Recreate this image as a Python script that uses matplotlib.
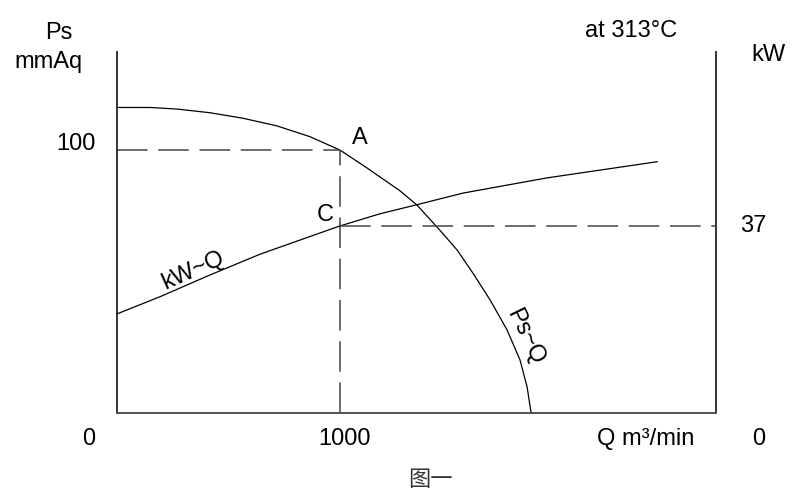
import matplotlib
matplotlib.use('Agg')
import matplotlib.pyplot as plt

# Fan curves (Q in m3/min)
ps_q = [0, 148, 269, 417, 565, 717, 865, 1000, 1121, 1269, 1345, 1448, 1525,
        1596, 1673, 1749, 1807, 1839, 1857]
ps_val = [116.2, 116.2, 115.6, 114.2, 112.1, 109.2, 105.1, 100, 93.2, 84.5, 79.1,
          69.5, 62.0, 53.2, 43.0, 31.6, 20.2, 9.9, 0]

kw_q = [0, 193, 417, 641, 865, 1000, 1179, 1345, 1552, 1928, 2422]
kw_val = [19.6, 23.0, 27.3, 31.4, 34.9, 37, 39.4, 41.2, 43.5, 46.5, 49.7]

# Operating point
point_q = 1000
point_ps = 100
point_kw = 37

Q_MAX = 2686
PS_MAX = 137.3
KW_MAX = 71.4

FS = 17

plt.rcParams['font.family'] = ['Liberation Sans', 'DejaVu Sans']

fig = plt.figure(figsize=(8, 5), dpi=100)
ax = fig.add_axes([117 / 800, 87 / 500, 599 / 800, 361 / 500])
ax2 = ax.twinx()

ax.set_xlim(0, Q_MAX)
ax.set_ylim(0, PS_MAX)
ax2.set_ylim(0, KW_MAX)

for a in (ax, ax2):
    a.set_xticks([])
    a.set_yticks([])
    a.spines['top'].set_visible(False)
    for s in ('left', 'right', 'bottom'):
        a.spines[s].set_linewidth(1.4)
        a.spines[s].set_color('#333333')
ax.spines['right'].set_visible(False)
ax2.spines['left'].set_visible(False)
ax2.spines['bottom'].set_color('#555555')

# curves
ax.plot(ps_q, ps_val, color='black', lw=0.9)
ax2.plot(kw_q, kw_val, color='black', lw=0.9)

# dashed guides
dash = (0, (20, 7))
ax.plot([0, point_q], [point_ps, point_ps], color='#444444', lw=1.1, linestyle=dash)
ax.plot([point_q, point_q], [0, point_ps], color='#444444', lw=1.1, linestyle=dash)
ax2.plot([point_q, Q_MAX], [point_kw, point_kw], color='#444444', lw=1.1, linestyle=dash)

# labels on the curves
ax.text(1090, 104.6, 'A', fontsize=FS, ha='center', va='center')
ax2.text(933, 39.2, 'C', fontsize=FS, ha='center', va='center')
ax2.text(340, 28.2, 'kW~Q', fontsize=FS, ha='center', va='center', rotation=24)
ax.text(1830, 29, 'Ps~Q', fontsize=FS, ha='center', va='center', rotation=-64)

# axis annotations in figure pixels
def ftext(x, y, s, **kw):
    fig.text(x / 800, 1 - y / 500, s, fontsize=FS, va='center', **kw)

ftext(59, 33, 'Ps', ha='center')
ftext(48, 62, 'mmAq', ha='center')
ftext(96, 144, '100', ha='right')
ftext(631, 31, 'at 313°C', ha='center')
ftext(768, 55, 'kW', ha='center')
ftext(753, 226, '37', ha='center')
ftext(89, 439, '0', ha='center')
ftext(345, 439, '1000', ha='center')
ftext(646, 439, 'Q m³/min', ha='center')
ftext(759, 439, '0', ha='center')
fig.text(430 / 800, 1 - 480 / 500, '图一', fontsize=16, ha='center', va='center',
         family=['Noto Sans CJK SC', 'DejaVu Sans'], color='#333333')

fig.savefig('out.png', dpi=100)
